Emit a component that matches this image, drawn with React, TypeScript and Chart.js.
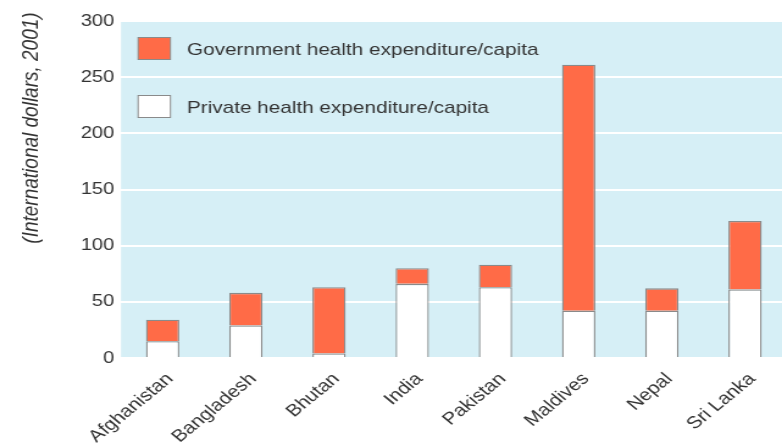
import React, { useEffect, useRef } from "react";
import { Chart, registerables } from "chart.js";
Chart.register(...registerables);

const categories = ["Afghanistan", "Bangladesh", "Bhutan", "India", "Pakistan", "Maldives", "Nepal", "Sri Lanka"];
const privateValues = [15, 29, 4, 66, 63, 42, 42, 61];
const governmentValues = [19, 29, 59, 14, 20, 219, 20, 61];
const yTickStep = 50;
const yMin = 0;
const yMax = 300;
const governmentLabel = "Government health expenditure/capita";
const privateLabel = "Private health expenditure/capita";
const yTitle = "(International dollars, 2001)";

const ORANGE = "#ff6b47";
const BORDER = "#8a8a8a";
const BG = "#d6eff6";
const TEXT = "#333333";
const FONT = "'Liberation Sans', Arial, sans-serif";

// the reference artwork is stretched horizontally; draw at a narrower width and stretch
const S = 1.22;
const W = 648;
const H = 446;

export default function App() {
  const ref = useRef<HTMLCanvasElement>(null);
  useEffect(() => {
    const canvas = ref.current!;
    const bgPlugin = {
      id: "bgPlugin",
      beforeDraw(chart: any) {
        const { ctx, chartArea: a } = chart;
        ctx.save();
        ctx.fillStyle = BG;
        ctx.fillRect(a.left, a.top, a.right - a.left, a.bottom - a.top);
        ctx.restore();
      },
      afterDraw(chart: any) {
        const { ctx, chartArea: a } = chart;
        ctx.save();
        const items = [
          { label: governmentLabel, color: ORANGE },
          { label: privateLabel, color: "#ffffff" },
        ];
        items.forEach((it, i) => {
          const bx = a.left + 14;
          const by = a.top + 16.5 + i * 58;
          ctx.fillStyle = it.color;
          ctx.fillRect(bx, by, 26.5, 22);
          ctx.strokeStyle = BORDER;
          ctx.lineWidth = 1;
          ctx.strokeRect(bx, by, 26.5, 22);
          ctx.fillStyle = TEXT;
          ctx.font = `17px ${FONT}`;
          ctx.textBaseline = "middle";
          ctx.textAlign = "left";
          ctx.fillText(it.label, a.left + 54, by + 13);
        });
        ctx.translate(25.5, 128);
        ctx.rotate(-Math.PI / 2);
        ctx.font = `italic 19px ${FONT}`;
        ctx.textAlign = "center";
        ctx.textBaseline = "middle";
        ctx.fillStyle = TEXT;
        ctx.fillText(yTitle, 0, 0);
        ctx.restore();
      },
    };
    const chart = new Chart(canvas, {
      type: "bar",
      data: {
        labels: categories,
        datasets: [
          {
            label: privateLabel,
            data: privateValues,
            backgroundColor: "#ffffff",
            borderColor: BORDER,
            borderWidth: 1.3,
            stack: "s",
          },
          {
            label: governmentLabel,
            data: governmentValues,
            backgroundColor: ORANGE,
            borderColor: BORDER,
            borderWidth: 1.3,
            stack: "s",
          },
        ],
      },
      options: {
        responsive: false,
        animation: false,
        maintainAspectRatio: false,
        datasets: { bar: { categoryPercentage: 0.4, barPercentage: 1 } },
        layout: { padding: { top: 21, right: 3.2, left: 0, bottom: 0 } },
        plugins: { legend: { display: false }, tooltip: { enabled: false } },
        scales: {
          x: {
            stacked: true,
            grid: { display: false },
            border: { display: false },
            ticks: {
              minRotation: 45,
              maxRotation: 45,
              color: TEXT,
              padding: 3,
              labelOffset: 6,
              font: { family: FONT, size: 17 },
            },
            afterFit(scale: any) {
              scale.height = 88;
            },
          },
          y: {
            stacked: true,
            min: yMin,
            max: yMax,
            grid: { color: "#ffffff", lineWidth: 2, drawTicks: false },
            border: { display: false },
            ticks: {
              stepSize: yTickStep,
              color: TEXT,
              padding: 5.5,
              font: { family: FONT, size: 16.5 },
            },
            afterFit(scale: any) {
              scale.width = 99.2;
            },
          },
        },
      },
      plugins: [bgPlugin],
    });
    return () => chart.destroy();
  }, []);
  return (
    <div style={{ position: "fixed", left: 0, top: 0, width: 782, height: 446, overflow: "hidden", background: "#fff" }}>
      <canvas
        ref={ref}
        width={W}
        height={H}
        style={{ width: W, height: H, display: "block", transform: `scaleX(${S})`, transformOrigin: "0 0" }}
      />
    </div>
  );
}
